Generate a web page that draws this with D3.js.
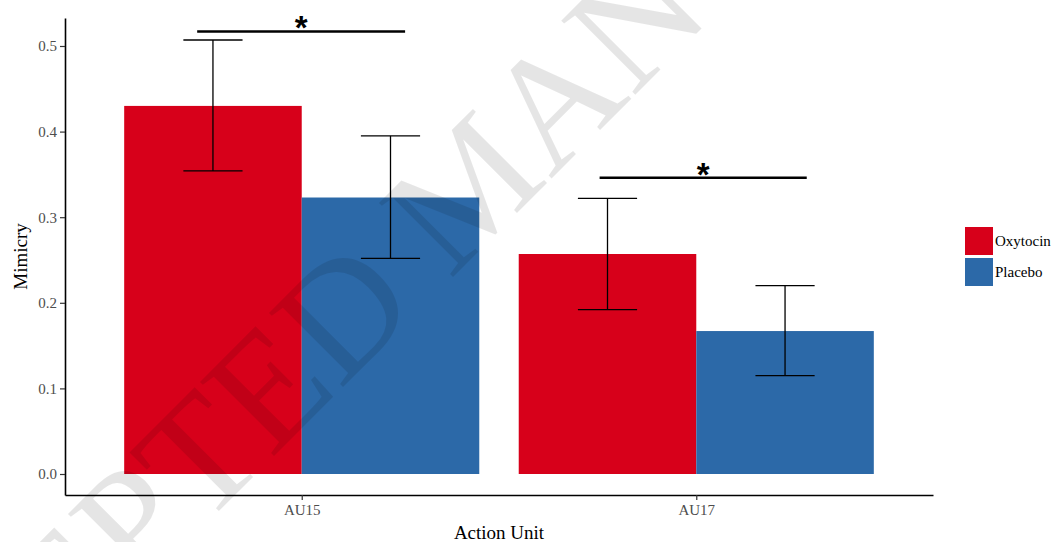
<!DOCTYPE html>
<html>
<head>
<meta charset="utf-8">
<script src="https://cdn.jsdelivr.net/npm/d3@7"></script>
<style>
  html, body { margin: 0; padding: 0; background: #fff; }
  svg { display: block; }
</style>
</head>
<body>
<svg id="chart" width="1054" height="542"></svg>
<script>
// ---- data ----
const categories = ["AU15", "AU17"];
const groups = ["Oxytocin", "Placebo"];
const oxytocinMean = [0.430, 0.257];
const placeboMean = [0.323, 0.167];
const oxytocinLow = [0.354, 0.192];
const oxytocinHigh = [0.507, 0.322];
const placeboLow = [0.252, 0.115];
const placeboHigh = [0.395, 0.220];
const yTicks = [0.0, 0.1, 0.2, 0.3, 0.4, 0.5];
const sigCategories = ["AU15", "AU17"];
const sigFrom = [-0.265, -0.245];   // offset in category units
const sigTo = [0.262, 0.280];
const sigLevel = [0.517, 0.346];
const sigLabel = ["*", "*"];
const colors = {Oxytocin: "#D7001A", Placebo: "#2C69A8"};

// ---- layout ----
const svg = d3.select("#chart");
const pLeft = 65, pRight = 933, pTop = 18, pBottom = 495;

const x = d3.scalePoint().domain(categories).range([pLeft, pRight]).padding(0.6);
const step = x.step();
const y = d3.scaleLinear().domain([-0.02453, 0.5327]).range([pBottom, pTop]);

const barW = 0.45 * step;
const capHalf = 0.075 * step;

const rows = [];
categories.forEach((c, i) => {
  rows.push({cat: c, grp: "Oxytocin", off: -1, v: oxytocinMean[i], lo: oxytocinLow[i], hi: oxytocinHigh[i]});
  rows.push({cat: c, grp: "Placebo", off: 0, v: placeboMean[i], lo: placeboLow[i], hi: placeboHigh[i]});
});

// bars
svg.append("g").selectAll("rect").data(rows).join("rect")
  .attr("x", d => x(d.cat) + d.off * barW)
  .attr("y", d => y(d.v))
  .attr("width", barW)
  .attr("height", d => y(0) - y(d.v))
  .attr("fill", d => colors[d.grp]);

// error bars
const eb = svg.append("g").attr("stroke", "#000").attr("stroke-width", 1.3).attr("fill", "none");
rows.forEach(d => {
  const cx = x(d.cat) + d.off * barW + barW / 2;
  eb.append("line").attr("x1", cx).attr("x2", cx).attr("y1", y(d.lo)).attr("y2", y(d.hi));
  eb.append("line").attr("x1", cx - capHalf).attr("x2", cx + capHalf).attr("y1", y(d.lo)).attr("y2", y(d.lo));
  eb.append("line").attr("x1", cx - capHalf).attr("x2", cx + capHalf).attr("y1", y(d.hi)).attr("y2", y(d.hi));
});

// significance
sigCategories.forEach((c, i) => {
  const x1 = x(c) + sigFrom[i] * step, x2 = x(c) + sigTo[i] * step;
  svg.append("line").attr("x1", x1).attr("x2", x2)
    .attr("y1", y(sigLevel[i])).attr("y2", y(sigLevel[i]))
    .attr("stroke", "#000").attr("stroke-width", 2.4);
  svg.append("text").attr("x", (x1 + x2) / 2).attr("y", y(sigLevel[i]) + 8)
    .attr("text-anchor", "middle")
    .attr("font-family", "Liberation Sans, Arial, sans-serif")
    .attr("font-weight", "bold")
    .attr("font-size", 33)
    .attr("fill", "#000")
    .text(sigLabel[i]);
});

// axes
const yAxis = svg.append("g").attr("transform", `translate(${pLeft},0)`)
  .call(d3.axisLeft(y).tickValues(yTicks).tickFormat(d3.format(".1f")).tickSize(5).tickSizeOuter(0).tickPadding(3));
const xAxis = svg.append("g").attr("transform", `translate(0,${pBottom})`)
  .call(d3.axisBottom(x).tickSize(5).tickSizeOuter(0).tickPadding(4));
[yAxis, xAxis].forEach(a => {
  a.select(".domain").attr("stroke", "#000").attr("stroke-width", 1.6);
  a.selectAll(".tick line").attr("stroke", "#333").attr("stroke-width", 1.2);
  a.selectAll(".tick text").attr("fill", "#4d4d4d")
    .attr("font-family", "Liberation Serif, Times New Roman, serif").attr("font-size", 15);
});

// axis titles
svg.append("text").attr("x", (pLeft + pRight) / 2).attr("y", 539)
  .attr("text-anchor", "middle").attr("font-family", "Liberation Serif, Times New Roman, serif")
  .attr("font-size", 19).attr("fill", "#000").text("Action Unit");
svg.append("text").attr("transform", `translate(27,${(pTop + pBottom) / 2}) rotate(-90)`)
  .attr("text-anchor", "middle").attr("font-family", "Liberation Serif, Times New Roman, serif")
  .attr("font-size", 19).attr("fill", "#000").text("Mimicry");

// legend
const lg = svg.append("g").attr("transform", "translate(965,227)");
groups.forEach((g, i) => {
  lg.append("rect").attr("x", 0).attr("y", i * 31).attr("width", 28).attr("height", 28).attr("fill", colors[g]);
  lg.append("text").attr("x", 30).attr("y", i * 31 + 19)
    .attr("font-family", "Liberation Serif, Times New Roman, serif").attr("font-size", 15)
    .attr("fill", "#000").text(g);
});

// watermark
svg.append("text")
  .attr("transform", "translate(508,222) rotate(-45)")
  .attr("text-anchor", "middle")
  .attr("font-family", "Liberation Serif, Times New Roman, serif")
  .attr("font-size", 160)
  .attr("fill", "#000").attr("fill-opacity", 0.1)
  .text("ACCEPTED MANUSCRIPT");
</script>
</body>
</html>
